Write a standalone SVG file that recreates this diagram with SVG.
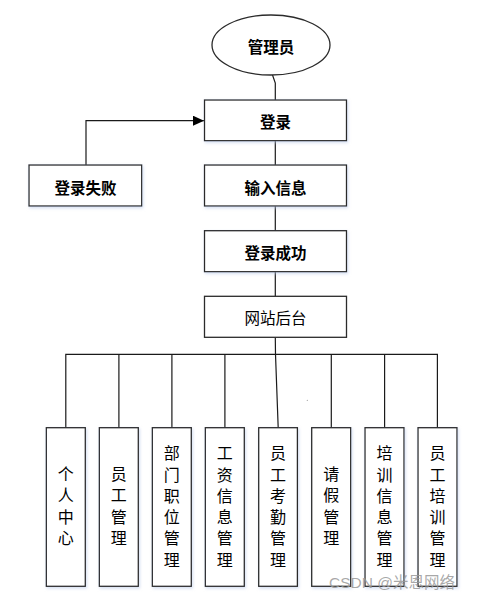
<svg xmlns="http://www.w3.org/2000/svg" width="477" height="601" viewBox="0 0 477 601">
<style>
.box{fill:#fff;stroke:#2b2b2b;stroke-width:1.3}
.t{font-family:"Noto Sans CJK SC","Liberation Sans",sans-serif;font-size:15.5px;fill:#000;text-anchor:middle;dominant-baseline:central}
.b{font-weight:bold}
.v{font-family:"Noto Sans CJK SC","Liberation Sans",sans-serif;font-size:16px;fill:#000;text-anchor:middle;dominant-baseline:central;writing-mode:vertical-rl;letter-spacing:5.3px}
.ln{fill:none;stroke:#1a1a1a;stroke-width:1.2}
</style>
<defs>
<marker id="arr" markerWidth="12" markerHeight="10" refX="11" refY="5" orient="auto" markerUnits="userSpaceOnUse">
<path d="M0,0 L11,5 L0,10 Z" fill="#000"/>
</marker>
<filter id="sh" x="-20%" y="-20%" width="140%" height="140%">
<feDropShadow dx="1" dy="1.5" stdDeviation="1.5" flood-color="#b8c8e8" flood-opacity="0.6"/>
</filter>
</defs>
<rect width="477" height="601" fill="#fff"/>
<g id="connectors">
<path class="ln" d="M272.5,75 L275.3,83 L275.3,100"/>
<path class="ln" d="M275.3,140.7 L275.3,165"/>
<path class="ln" d="M275.3,206 L275.3,230.7"/>
<path class="ln" d="M275.3,271.7 L275.3,296.3"/>
<path class="ln" stroke-width="1.5" d="M86,165 L86,120.7 L204,120.7" marker-end="url(#arr)"/>
<path class="ln" d="M275.3,337.3 L275.5,354.3 L278.2,427.7"/>
<path class="ln" d="M65.8,427.7 L65.8,354.3 L437.4,354.3 L437.4,427.7"/>
<path class="ln" d="M118.9,354.3 L118.9,427.7"/>
<path class="ln" d="M171.9,354.3 L171.9,427.7"/>
<path class="ln" d="M224.9,354.3 L224.9,427.7"/>
<path class="ln" d="M331.3,354.3 L331.3,427.7"/>
<path class="ln" d="M384.6,354.3 L384.6,427.7"/>
</g>
<g id="admin">
<ellipse class="box" cx="271" cy="45" rx="59" ry="30"/>
<text class="t b" x="271" y="45.7">管理员</text>
</g>
<g id="login">
<rect class="box" filter="url(#sh)" x="204.5" y="100" width="142" height="40.7"/>
<text class="t b" x="275.5" y="120.7">登录</text>
</g>
<g id="loginfail">
<rect class="box" filter="url(#sh)" x="29" y="165" width="112.7" height="41"/>
<text class="t b" x="85.5" y="186.5">登录失败</text>
</g>
<g id="input">
<rect class="box" filter="url(#sh)" x="204.5" y="165" width="142" height="41"/>
<text class="t b" x="275.5" y="186.7">输入信息</text>
</g>
<g id="loginok">
<rect class="box" filter="url(#sh)" x="204.5" y="230.7" width="142" height="41"/>
<text class="t b" x="275.5" y="251.7">登录成功</text>
</g>
<g id="backend">
<rect class="box" x="204.5" y="296.3" width="142" height="41"/>
<text class="t" x="275.5" y="316.7">网站后台</text>
</g>
<g id="m1">
<rect class="box" filter="url(#sh)" x="46.3" y="427.7" width="39" height="158.6"/>
<text class="v" x="65.8" y="508.6">个人中心</text>
</g>
<g id="m2">
<rect class="box" filter="url(#sh)" x="99.3" y="427.7" width="39" height="158.6"/>
<text class="v" x="118.8" y="508.6">员工管理</text>
</g>
<g id="m3">
<rect class="box" filter="url(#sh)" x="152.3" y="427.7" width="39" height="158.6"/>
<text class="v" x="171.8" y="509.1">部门职位管理</text>
</g>
<g id="m4">
<rect class="box" filter="url(#sh)" x="205.3" y="427.7" width="39" height="158.6"/>
<text class="v" x="224.8" y="509.1">工资信息管理</text>
</g>
<g id="m5">
<rect class="box" filter="url(#sh)" x="258.7" y="427.7" width="38.7" height="158.6"/>
<text class="v" x="278" y="509.1">员工考勤管理</text>
</g>
<g id="m6">
<rect class="box" filter="url(#sh)" x="311.7" y="427.7" width="39" height="158.6"/>
<text class="v" x="331.2" y="508.6">请假管理</text>
</g>
<g id="m7">
<rect class="box" filter="url(#sh)" x="365" y="427.7" width="39" height="158.6"/>
<text class="v" x="384.5" y="509.1">培训信息管理</text>
</g>
<g id="m8">
<rect class="box" filter="url(#sh)" x="418" y="427.7" width="39" height="158.6"/>
<text class="v" x="437.5" y="509.1">员工培训管理</text>
</g>
<circle cx="307.3" cy="400.3" r="0.6" fill="#999"/>
<text x="392" y="582" font-family="'Liberation Sans','Noto Sans CJK SC',sans-serif" font-size="15.5px" fill="#999" fill-opacity="0.85" text-anchor="middle" dominant-baseline="central">CSDN @米恩网络</text>
</svg>
